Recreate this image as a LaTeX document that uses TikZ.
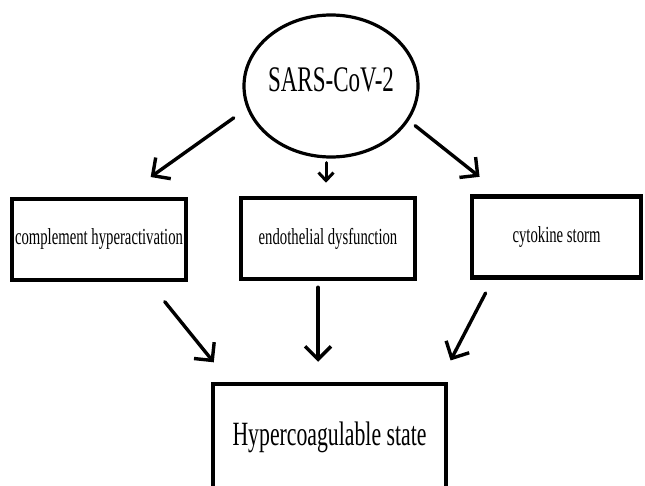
\documentclass[tikz,border=0pt]{standalone}
\usepackage{fontspec}
\newfontfamily\narrowserif[FakeStretch=0.64]{Liberation Serif}
\usepackage{tikz}
\usetikzlibrary{
    shapes.geometric,
    arrows.meta
}
\tikzset{
    % Base style for all nodes
    plain base/.style={
        align=center,
        text=black,
        draw=black,
        inner sep=0pt,
    },
    % Virus node - plain ellipse, text put in as a label
    virus/.style={
        plain base,
        ellipse,
        line width=3.2pt,
        minimum width=174pt,
        minimum height=142pt,
    },
    virus text/.style={
        font=\narrowserif\fontsize{36}{40}\selectfont,
        text=black,
        yshift=6pt,
    },
    % Mechanism boxes - thick black frame
    mechanism/.style={
        plain base,
        rectangle,
        line width=4.5pt,
        minimum width=174pt,
        minimum height=81pt,
        font=\narrowserif\fontsize{23}{27}\selectfont,
    },
    % Outcome box - larger text
    outcome/.style={
        plain base,
        rectangle,
        line width=4.5pt,
        minimum width=233pt,
        minimum height=106pt,
        font=\narrowserif\fontsize{34}{38}\selectfont,
    },
    % Hand drawn arrow with open barb
    arrow/.style={
        -{Straight Barb[length=13pt, width=26pt]},
        line width=3.4pt,
        line cap=round,
        draw=black,
    },
    % Small arrow variant
    arrow small/.style={
        arrow,
        -{Straight Barb[length=8pt, width=15pt]},
        line width=3pt,
    },
}

\begin{document}
\begin{tikzpicture}[x=1pt, y=-1pt]
    \useasboundingbox (0,0) rectangle (645,486);

    \node (sars) [virus, label={[virus text]center:SARS-CoV-2}] at (331,86) {};
    \node (complement) [mechanism] at (99,239.5) {complement hyperactivation};
    \node (endothelial) [mechanism] at (328,238.5) {endothelial dysfunction};
    \node (cytokine) [mechanism, minimum width=169pt] at (556.5,237) {cytokine storm};
    \node (hyper) [outcome] at (329.5,437) {Hypercoagulable state};

    \draw [arrow, shorten <=16pt, shorten >=34pt] (sars.195) -- ([xshift=24pt]complement.north);
    \draw [arrow small, shorten <=4pt, shorten >=13pt] ([xshift=-5pt]sars.south) -- ([xshift=-2pt]endothelial.north);
    \draw [arrow, shorten <=8pt, shorten >=28pt] (sars.336) -- ([xshift=-55pt]cytokine.north);
    \draw [arrow, shorten <=25pt, shorten >=25pt] ([xshift=50pt]complement.south) -- ([xshift=-100pt]hyper.north);
    \draw [arrow, shorten <=6pt, shorten >=20pt] ([xshift=-10pt]endothelial.south) -- ([xshift=-11.5pt]hyper.north);
    \draw [arrow, shorten <=15pt, shorten >=24pt] ([xshift=-64pt]cytokine.south) -- ([xshift=110pt]hyper.north);
\end{tikzpicture}
\end{document}
